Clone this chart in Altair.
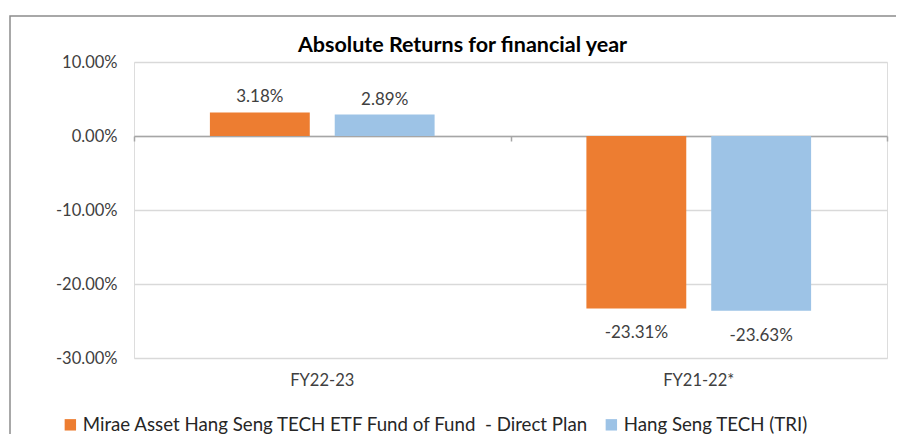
import altair as alt
import pandas as pd

categories = ["FY22-23", "FY21-22*"]
series = ["Mirae Asset Hang Seng TECH ETF Fund of Fund\u00a0 - Direct Plan", "Hang Seng TECH (TRI)"]
fund_values = [3.18, -23.31]
index_values = [2.89, -23.63]
colors = ["#ED7D31", "#9DC3E6"]
y_ticks = [10, 0, -10, -20, -30]

rows = []
for cat, f, i in zip(categories, fund_values, index_values):
    for s, v in zip(series, [f, i]):
        rows.append({"cat": cat, "series": s, "value": v, "label": f"{v:.2f}%"})
df = pd.DataFrame(rows)

FONT = "Lato"
TXT = "#404040"

x_scale = alt.Scale(paddingInner=0, paddingOuter=0)
xo_enc = alt.XOffset("series:N", sort=series,
                     scale=alt.Scale(paddingInner=0.2, paddingOuter=0.608))
y_scale = alt.Scale(domain=[-30, 10], nice=False, zero=False)

base = alt.Chart(df)

bars = base.mark_bar().encode(
    x=alt.X("cat:N", sort=categories, scale=x_scale,
            axis=alt.Axis(title=None, orient="bottom", labels=False, domain=True,
                          domainColor="#a6a6a6", domainWidth=1.5, ticks=True,
                          tickBand="extent", tickColor="#a6a6a6", tickWidth=1.5,
                          tickSize=5, offset=-222, grid=False)),
    xOffset=xo_enc,
    y=alt.Y("value:Q", scale=y_scale,
            axis=alt.Axis(title=None, values=y_ticks, domain=False, ticks=False,
                          grid=True, gridColor="#d9d9d9", gridWidth=1.5,
                          labelExpr="datum.value < 0 ? '-' + format(abs(datum.value), '.2f') + '%' : format(datum.value, '.2f') + '%'",
                          labelFont=FONT, labelFontSize=16.5, labelColor=TXT, labelPadding=17)),
    color=alt.Color("series:N", sort=series,
                    scale=alt.Scale(domain=series, range=colors),
                    legend=alt.Legend(title=None, orient="none", direction="horizontal",
                                      legendX=-73, legendY=353, symbolType="square",
                                      symbolSize=130, symbolStrokeWidth=0,
                                      labelFont=FONT, labelFontSize=18.7, labelColor="#262626",
                                      labelOffset=3, columnPadding=12, labelLimit=700)),
)

pos_labels = base.transform_filter("datum.value >= 0").mark_text(
    baseline="middle", dy=-15, font=FONT, fontSize=17, color=TXT
).encode(
    x=alt.X("cat:N", sort=categories, scale=x_scale,
            axis=alt.Axis(title=None, orient="bottom", domain=False, ticks=False, grid=False,
                          labelFont=FONT, labelFontSize=16.5, labelColor=TXT, labelPadding=14,
                          labelAngle=0)),
    xOffset=xo_enc,
    y=alt.Y("value:Q", scale=y_scale),
    text="label:N",
)

neg_labels = base.transform_filter("datum.value < 0").mark_text(
    baseline="middle", dy=25, font=FONT, fontSize=17, color=TXT
).encode(
    x=alt.X("cat:N", sort=categories, scale=x_scale, axis=None),
    xOffset=xo_enc,
    y=alt.Y("value:Q", scale=y_scale),
    text="label:N",
)

frame = alt.Chart(pd.DataFrame({"f": [0]})).mark_rect(
    fill=None, stroke="#8c8c8c", strokeWidth=1.5
).encode(
    x=alt.value(-124), x2=alt.value(900), y=alt.value(-46), y2=alt.value(600)
)

chart = alt.layer(frame, bars, pos_labels, neg_labels).resolve_axis(
    x="independent"
).properties(
    width=753,
    height=296,
    padding={"left": 126, "top": 54, "right": 9, "bottom": 76},
    autosize=alt.AutoSizeParams(type="none"),
    title=alt.TitleParams("Absolute Returns for financial year", font=FONT, fontSize=21.5,
                          fontWeight="bold", color="#000000", anchor="middle", dx=-48,
                          baseline="alphabetic", offset=-58),
).configure_view(stroke=None).configure(background="white")

chart.save("out.html", embed_options={"renderer": "svg", "actions": False})
